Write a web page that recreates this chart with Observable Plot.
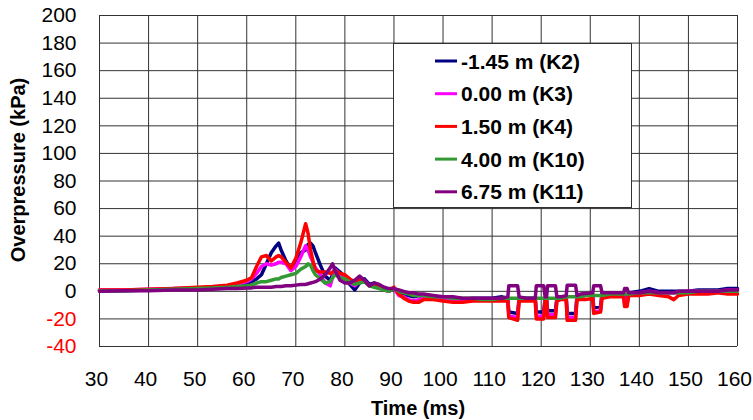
<!DOCTYPE html>
<html><head><meta charset="utf-8">
<script src="https://cdn.jsdelivr.net/npm/d3@7"></script>
<script src="https://cdn.jsdelivr.net/npm/@observablehq/plot@0.6"></script>
<style>body{margin:0;background:#fff} #chart{width:753px;height:420px}</style>
</head><body><div id="chart"></div>
<script>
// Time axis (ms), shared by all series
const time = [
  30,35,40,45,50,53,56,58,60,61,
  62,63,64,65,66,66.5,67,68,69,70,
  71,72,72.5,73,73.5,74,75,76,77,77.5,
  78,79,80,81,82,83,84,85,86,87,
  88,89,90,91,92,93,94,95,96,98,
  100,102,104,106,108,110,112,113.2,113.4,115.2,
  115.5,117,118.8,119,120.5,120.8,121.1,121.3,122.9,123.2,
  124,125.1,125.3,127,127.3,128,129,130.5,130.7,132.1,
  132.4,134,136,136.8,137,137.5,137.8,138,140,142,
  144,146,147,148,150,152,154,156,158,160
];
// Overpressure (kPa) per gauge
const k2 = [
  0.5,0.5,1,1.5,2,2.5,3.5,4.5,6,7,
  9,12,20,28,33,35,30,22,16,20,
  28,30,34,35,33,28,19,11,8,12,
  17,14,10,5,1,6,9,5,6,4,
  2,0,2,-2,-3,-3,-4,-3,-4,-5,
  -5,-5,-6,-5,-5,-5,-4,-5,-15,-16,
  -5,-5,-5,-15,-15,-5,-5,-14,-14,-5,
  -4,-4,-16,-16,-3,-3,-2,-2,-12,-11,
  -1,-1,-1,-1,-7,-7,-1,-1,0,2,
  0,0,0,0,0,1,1,1,2,2
];
const k3 = [
  1,1,1.5,2,2.5,3,4,5,7,9,
  13,18,20,19,20,21,21,20,15,18,
  25,33,30,25,21,17,12,6,4,10,
  16,12,9,6,4,7,8,4,5,3,
  1,0,2,-3,-4,-6,-7,-6,-5,-5,
  -6,-6,-7,-6,-6,-6,-6,-6,-18,-19,
  -6,-6,-6,-18,-18,-6,-6,-17,-17,-6,
  -5,-5,-19,-19,-4,-4,-3,-2,-15,-14,
  -2,-2,-2,-2,-9,-9,-2,-2,-1,0,
  -1,-1,-1,-1,0,0,0,0,1,1
];
const k4 = [
  1,1,1.5,2,3,3.5,4.5,6,8,10,
  18,25,26,22,25,26,25,21,17,24,
  35,49,42,30,22,15,14,14,13,14,
  15,13,12,9,7,9,7,4,5,3,
  2,0,3,-2,-5,-7,-8,-8,-6,-6,
  -7,-8,-8,-7,-7,-7,-7,-7,-19,-21,
  -7,-7,-7,-20,-20,-7,-7,-19,-19,-7,
  -6,-6,-21,-21,-6,-6,-6,-5,-16,-15,
  -5,-4,-4,-4,-11,-11,-4,-3,-3,-2,
  -3,-4,-6,-3,-2,-2,-2,-1,-2,-2
];
const k10 = [
  0.5,0.5,1,1.5,2,2.5,3,3.5,4,4.5,
  6,7,7,8,9,9,10,11,12,13,
  16,18,20,19,15,12,9,6,7,10,
  12,10,9,7,5,6,7,4,3,2,
  1,0,2,0,-1,-2,-3,-3,-3,-4,
  -4,-5,-5,-5,-6,-6,-5,-5,-5,-5,
  -5,-5,-5,-5,-5,-5,-5,-5,-5,-5,
  -5,-4,-4,-4,-4,-4,-3,-3,-3,-3,
  -3,-2,-2,-2,-2,-2,-2,-2,-1,-1,
  -1,-1,-1,-1,-1,0,0,0,0,0
];
const k11 = [
  0,0.5,0.5,1,1,1.5,2,2,2.5,2.5,
  3,3,3,3,3.5,3.5,3.5,4,4,4.5,
  5,5,5.5,6,6.5,7,9,12,17,20,
  15,8,6,6,8,11,8,4,6,5,
  3,2,2,1,0,-1,-1,-2,-2,-3,
  -4,-4,-5,-5,-5,-5,-5,-4,4,4,
  -4,-5,-5,4,4,-4,-4,4,4,-4,
  -4,-3,4.5,4.5,-3,-2,-1.5,-1,4,4,
  -1,-1,-1,-1,2,2,-1,-1,-1,0,
  -1,-1,-1,0,0,0,0,0,1,1
];
const seriesNames = ["-1.45 m (K2)", "0.00 m (K3)", "1.50 m (K4)", "4.00 m (K10)", "6.75 m (K11)"];
const seriesColors = ["#000080", "#ff00ff", "#ff0000", "#339933", "#800080"];
const xTicks = [30,40,50,60,70,80,90,100,110,120,130,140,150,160];
const yTicks = [-40,-20,0,20,40,60,80,100,120,140,160,180,200];
const xTitle = "Time (ms)";
const yTitle = "Overpressure (kPa)";

const seriesValues = [k2, k3, k4, k10, k11];
const rows = seriesNames.flatMap((name, i) => time.map((t, j) => ({t, p: seriesValues[i][j], name})));

const font = "'Liberation Sans', Arial, sans-serif";
const plot = Plot.plot({
  width: 753, height: 420,
  marginLeft: 99, marginRight: 16, marginTop: 15, marginBottom: 74,
  style: {fontFamily: font, fontSize: "21px", background: "#fff", color: "#000"},
  x: {domain: [30, 160], label: null},
  y: {domain: [-40, 200], label: null},
  color: {domain: seriesNames, range: seriesColors},
  marks: [
    Plot.ruleX(xTicks, {stroke: "#333", strokeWidth: 1}),
    Plot.ruleY(yTicks, {stroke: "#333", strokeWidth: 1}),
    Plot.line(rows, {x: "t", y: "p", z: "name", stroke: "name", strokeWidth: 3.5, strokeLinejoin: "round"}),
    Plot.axisX(xTicks, {tickSize: 0, tickPadding: 25, dx: -3, tickFormat: d => String(d), label: null, fontSize: 21}),
    Plot.axisY(yTicks.filter(v => v >= 0), {tickSize: 0, tickPadding: 23, tickFormat: d => String(d), label: null, fontSize: 21}),
    Plot.axisY(yTicks.filter(v => v < 0), {tickSize: 0, tickPadding: 23, tickFormat: d => String(d), label: null, fontSize: 21, fill: "#ff0000"})
  ]
});
document.getElementById("chart").appendChild(plot);

const svg = d3.select(plot);
svg.append("text").attr("x", 418).attr("y", 415).attr("text-anchor", "middle")
  .attr("font-family", font).attr("font-weight", "bold").attr("font-size", 20).attr("fill", "#000").text(xTitle);
svg.append("text").attr("transform", "translate(18,170) rotate(-90)").attr("text-anchor", "middle").attr("dy", "0.35em")
  .attr("font-family", font).attr("font-weight", "bold").attr("font-size", 20).attr("fill", "#000").text(yTitle);

const lg = svg.append("g").attr("text-anchor", "start");
lg.append("rect").attr("x", 393.5).attr("y", 43.5).attr("width", 238).attr("height", 164)
  .attr("fill", "#fff").attr("stroke", "#333").attr("stroke-width", 1);
seriesNames.forEach((name, i) => {
  const cy = 61 + i * 32.7;
  lg.append("line").attr("x1", 435).attr("x2", 457).attr("y1", cy).attr("y2", cy)
    .attr("stroke", seriesColors[i]).attr("stroke-width", 3);
  lg.append("text").attr("x", 461).attr("y", cy).attr("dy", "0.36em").attr("text-anchor", "start")
    .attr("font-family", font).attr("font-weight", "bold").attr("font-size", 21).attr("fill", "#000").text(name);
});
</script>
</body></html>
